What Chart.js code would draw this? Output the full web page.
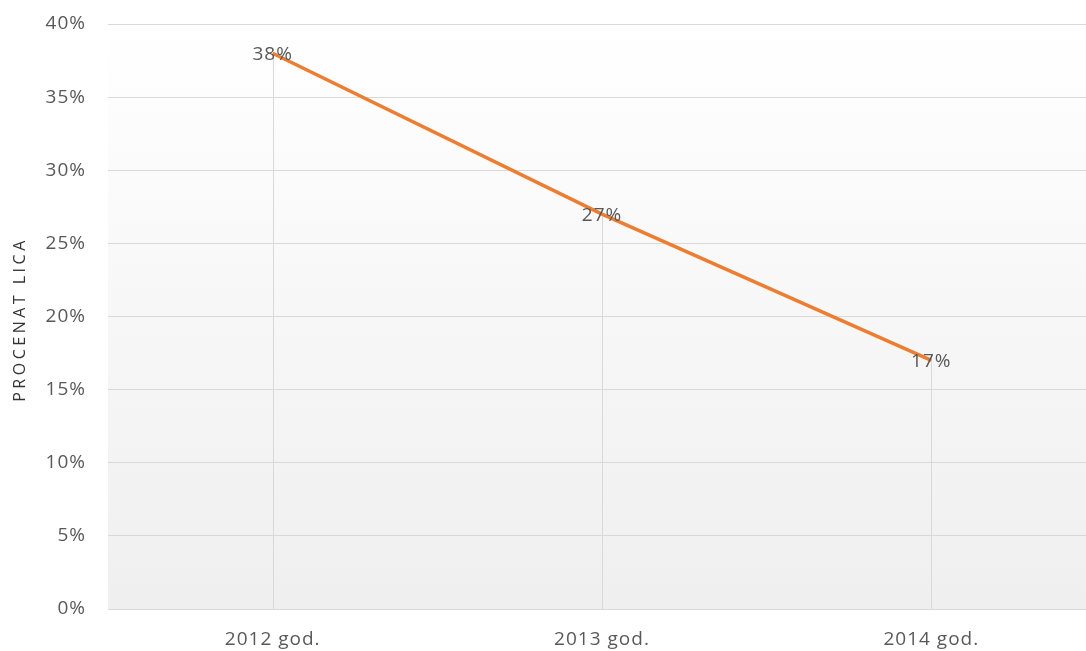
<!DOCTYPE html>
<html>
<head>
<meta charset="utf-8">
<script src="https://cdn.jsdelivr.net/npm/chart.js@4.4.1/dist/chart.umd.min.js"></script>
<style>
html,body{margin:0;padding:0;background:#fff;overflow:hidden;}
#wrap{width:1096px;height:651px;}
</style>
</head>
<body>
<div id="wrap"><canvas id="c" width="1096" height="651"></canvas></div>
<script>
const categories = ['2012 god.', '2013 god.', '2014 god.'];
const percentValues = [38, 27, 17];
const yAxisTitle = 'PROCENAT LICA';

const FONT = "'Open Sans', 'Liberation Sans', sans-serif";

const bgPlugin = {
  id: 'bgGrad',
  beforeInit(chart) {
    chart.ctx.letterSpacing = '1px';
  },
  beforeDraw(chart) {
    const {ctx, chartArea: a} = chart;
    ctx.letterSpacing = '1px';
    const g = ctx.createLinearGradient(0, a.top, 0, a.bottom);
    g.addColorStop(0, '#ffffff');
    g.addColorStop(1, '#efefef');
    ctx.save();
    ctx.fillStyle = g;
    ctx.fillRect(a.left, a.top, a.right - a.left, a.bottom - a.top);
    ctx.restore();
  },
  beforeDatasetsDraw(chart) {
    const {ctx, chartArea: a} = chart;
    const meta = chart.getDatasetMeta(0);
    ctx.save();
    ctx.strokeStyle = '#d9d9d9';
    ctx.lineWidth = 1;
    meta.data.forEach(p => {
      const x = Math.round(p.x) + 0.5;
      ctx.beginPath();
      ctx.moveTo(x, p.y);
      ctx.lineTo(x, a.bottom);
      ctx.stroke();
    });
    ctx.restore();
  },
  afterDatasetsDraw(chart) {
    const {ctx, chartArea: a} = chart;
    const meta = chart.getDatasetMeta(0);
    const data = chart.data.datasets[0].data;
    ctx.save();
    ctx.fillStyle = '#595959';
    ctx.font = '19px ' + FONT;
    ctx.letterSpacing = '1px';
    ctx.textAlign = 'center';
    ctx.textBaseline = 'middle';
    meta.data.forEach((p, i) => {
      ctx.fillText(data[i] + '%', p.x, p.y + 1);
    });
    ctx.restore();
    // y axis title
    ctx.save();
    ctx.fillStyle = '#333333';
    ctx.font = '16px ' + FONT;
    ctx.letterSpacing = '3.5px';
    ctx.textAlign = 'center';
    ctx.textBaseline = 'middle';
    ctx.translate(20, (a.top + a.bottom) / 2 + 3);
    ctx.rotate(-Math.PI / 2);
    ctx.fillText(yAxisTitle, 0, 0);
    ctx.restore();
  }
};

new Chart(document.getElementById('c'), {
  type: 'line',
  data: {
    labels: categories,
    datasets: [{
      data: percentValues,
      borderColor: '#ed7d31',
      borderWidth: 3.5,
      pointRadius: 0,
      tension: 0,
      fill: false
    }]
  },
  options: {
    responsive: false,
    animation: false,
    layout: {padding: {top: 24, left: 0, right: 0, bottom: 0}},
    plugins: {legend: {display: false}, tooltip: {enabled: false}},
    scales: {
      x: {
        offset: true,
        grid: {display: false, drawTicks: false},
        border: {display: true, color: '#d9d9d9'},
        ticks: {color: '#595959', font: {family: FONT, size: 19}, padding: 19},
        afterFit(s) { s.height = 42; s.paddingLeft = 0; s.paddingRight = 0; }
      },
      y: {
        min: 0, max: 40,
        ticks: {stepSize: 5, color: '#595959', font: {family: FONT, size: 19}, padding: 22,
          callback: v => v + '%'},
        grid: {color: '#d9d9d9', drawTicks: false},
        border: {display: false},
        title: {display: false},
        afterFit(s) { s.width = 108; s.paddingTop = 0; s.paddingBottom = 0; }
      }
    }
  },
  plugins: [bgPlugin]
});
</script>
</body>
</html>
